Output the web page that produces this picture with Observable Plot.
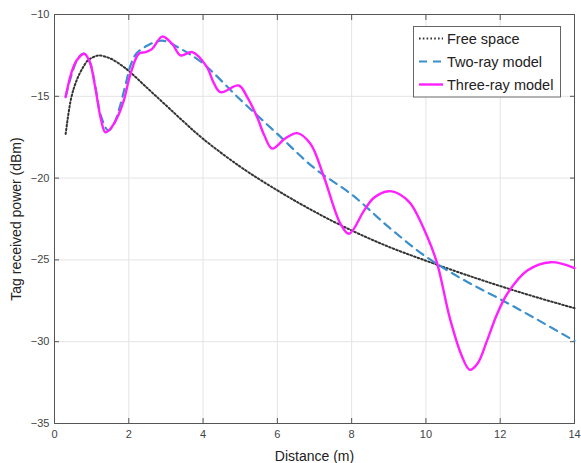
<!DOCTYPE html>
<html>
<head>
<meta charset="utf-8">
<script src="https://cdn.jsdelivr.net/npm/d3@7"></script>
<script src="https://cdn.jsdelivr.net/npm/@observablehq/plot@0.6"></script>
<style>
  body { margin: 0; background: #fff; }
  #wrap { position: relative; width: 581px; height: 463px; font-family: "Liberation Sans", Arial, sans-serif; }
  #legend { position: absolute; left: 0; top: 0; pointer-events: none; }
</style>
</head>
<body>
<div id="wrap"></div>
<script>
// Free space
const freeX = [0.3,0.45,0.6,0.75,0.9,1.05,1.2,1.4,1.6,1.8,2.0,2.5,3.0,3.5,4.0,5,6,7,8,9,10,11,12,13,14];
const freeY = [-17.3,-15.1,-14.0,-13.3,-12.8,-12.6,-12.5,-12.6,-12.8,-13.1,-13.45,-14.5,-15.55,-16.6,-17.6,-19.3,-20.75,-22.05,-23.2,-24.2,-25.05,-25.85,-26.6,-27.3,-27.95];
// Two-ray model
const twoX = [0.3,0.5,0.65,0.8,0.95,1.1,1.25,1.45,1.6,1.75,1.9,2.05,2.2,2.5,2.9,3.4,4,5,6,7,8,9,10,11,12,13,14];
const twoY = [-15.0,-13.4,-12.6,-12.4,-12.9,-14.4,-16.2,-17.1,-16.7,-15.7,-14.4,-13.1,-12.4,-11.9,-11.6,-12.1,-13.0,-15.2,-17.3,-19.4,-21.0,-23.0,-24.8,-26.2,-27.4,-28.65,-29.95];
// Three-ray model
const threeX = [0.3,0.45,0.6,0.8,0.95,1.1,1.25,1.37,1.5,1.69,1.86,2.05,2.27,2.45,2.63,2.9,3.17,3.39,3.71,4.1,4.29,4.47,4.96,5.2,5.46,5.65,5.86,6.2,6.53,6.89,7.25,7.7,7.93,8.33,8.6,9.0,9.3,9.59,10.04,10.3,10.66,10.98,11.18,11.4,11.65,11.9,12.19,12.73,13.36,14.0];
const threeY = [-15.05,-13.6,-12.8,-12.4,-12.9,-14.5,-16.4,-17.2,-17.0,-16.3,-15.3,-13.6,-12.4,-12.3,-12.1,-11.35,-11.8,-12.5,-12.3,-13.2,-14.2,-14.75,-14.34,-15.1,-16.3,-17.4,-18.2,-17.6,-17.25,-17.9,-19.9,-22.8,-23.4,-22.0,-21.2,-20.8,-21.0,-21.57,-23.6,-25.2,-28.7,-30.95,-31.72,-31.3,-29.9,-28.4,-27.07,-25.65,-25.14,-25.5];

const seriesNames = ["Free space", "Two-ray model", "Three-ray model"];
const seriesColors = ["#333333", "#3b8fcb", "#ff1fff"];
const seriesDash = ["1.6,2.2", "8,6", null];
const xTicks = [0,2,4,6,8,10,12,14];
const yTicks = [-35,-30,-25,-20,-15,-10];
const xLabel = "Distance (m)";
const yLabel = "Tag received power (dBm)";

const toRows = (xs, ys, s) => xs.map((x, i) => ({x, y: ys[i], s}));
const free = toRows(freeX, freeY, seriesNames[0]);
const two = toRows(twoX, twoY, seriesNames[1]);
const three = toRows(threeX, threeY, seriesNames[2]);

const chart = Plot.plot({
  width: 581,
  height: 463,
  marginLeft: 54,
  marginRight: 7,
  marginTop: 14,
  marginBottom: 40,
  style: { fontFamily: "'Liberation Sans', Arial, sans-serif", fontSize: "11px", color: "#444", background: "#fff" },
  x: { domain: [0, 14], ticks: xTicks },
  y: { domain: [-35, -10], ticks: yTicks },
  marks: [
    Plot.gridX(xTicks, { stroke: "#e4e4e4", strokeOpacity: 1 }),
    Plot.gridY(yTicks, { stroke: "#e4e4e4", strokeOpacity: 1 }),
    Plot.frame({ stroke: "#555", strokeWidth: 1 }),
    Plot.axisX(xTicks, { anchor: "bottom", tickSize: -5, tickPadding: 12, stroke: "#555", fontSize: 11, fill: "#444",
      label: xLabel, labelAnchor: "center", labelOffset: 37, labelArrow: "none" }),
    Plot.axisX(xTicks, { anchor: "top", tickSize: -5, text: null, stroke: "#555", label: null }),
    Plot.axisY(yTicks, { anchor: "left", tickSize: -5, tickPadding: 10, stroke: "#555", fontSize: 11, fill: "#444",
      label: yLabel, labelAnchor: "center", labelOffset: 43, labelArrow: "none" }),
    Plot.axisY(yTicks, { anchor: "right", tickSize: -5, text: null, stroke: "#555", label: null }),
    Plot.line(free, { x: "x", y: "y", stroke: seriesColors[0], strokeWidth: 2, strokeDasharray: seriesDash[0], curve: "catmull-rom" }),
    Plot.line(two, { x: "x", y: "y", stroke: seriesColors[1], strokeWidth: 2.2, strokeDasharray: seriesDash[1], curve: "catmull-rom" }),
    Plot.line(three, { x: "x", y: "y", stroke: seriesColors[2], strokeWidth: 2.4, curve: "catmull-rom" })
  ]
});

const wrap = document.getElementById("wrap");
wrap.appendChild(chart);
// enlarge axis label text
chart.querySelectorAll("text").forEach(t => {
  const s = t.textContent.trim();
  if (s === xLabel || s === yLabel) {
    t.setAttribute("font-size", "14"); t.style.fontSize = "14px"; t.setAttribute("fill", "#222");
  }
});

// Legend
const ns = "http://www.w3.org/2000/svg";
const leg = document.createElementNS(ns, "svg");
leg.setAttribute("id", "legend");
leg.setAttribute("width", 581);
leg.setAttribute("height", 463);
const lx = 413.5, ly = 26.5, lw = 147, lh = 70.5;
const box = document.createElementNS(ns, "rect");
box.setAttribute("x", lx); box.setAttribute("y", ly); box.setAttribute("width", lw); box.setAttribute("height", lh);
box.setAttribute("fill", "#fff"); box.setAttribute("stroke", "#666"); box.setAttribute("stroke-width", 1);
leg.appendChild(box);
seriesNames.forEach((name, i) => {
  const yy = 38.5 + i * 23;
  const ln = document.createElementNS(ns, "line");
  ln.setAttribute("x1", 419); ln.setAttribute("x2", 443);
  ln.setAttribute("y1", yy); ln.setAttribute("y2", yy);
  ln.setAttribute("stroke", seriesColors[i]); ln.setAttribute("stroke-width", i === 2 ? 2.4 : 2);
  if (seriesDash[i]) ln.setAttribute("stroke-dasharray", seriesDash[i]);
  leg.appendChild(ln);
  const tx = document.createElementNS(ns, "text");
  tx.setAttribute("x", 447); tx.setAttribute("y", yy);
  tx.setAttribute("dy", "0.35em");
  tx.setAttribute("font-size", "14.5");
  tx.setAttribute("font-family", "'Liberation Sans', Arial, sans-serif");
  tx.setAttribute("fill", "#222");
  tx.textContent = name;
  leg.appendChild(tx);
});
wrap.appendChild(leg);
</script>
</body>
</html>
